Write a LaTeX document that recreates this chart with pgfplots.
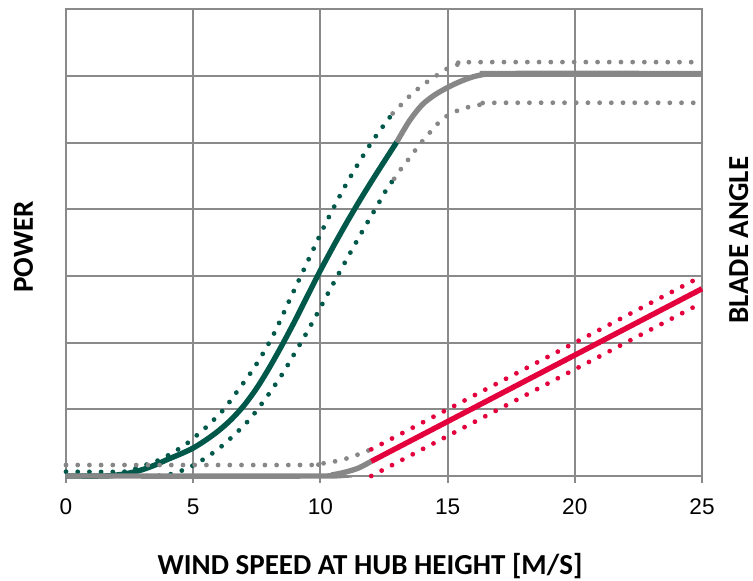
\documentclass[border=0pt]{standalone}
\usepackage{fontspec}
\setmainfont{Carlito}
\newfontfamily\arialfont{Liberation Sans}
\usepackage{pgfplots}
\pgfplotsset{compat=1.18}
\definecolor{gridgray}{RGB}{138,138,138}
\definecolor{curvegray}{RGB}{135,135,135}
\definecolor{tealgreen}{RGB}{0,88,74}
\definecolor{crimson}{RGB}{228,0,60}
\newcommand\labfont{\fontsize{14.5}{17}\selectfont\bfseries}

\begin{document}
\begin{tikzpicture}
\begin{axis}[
  scale only axis, width=318pt, height=233.25pt,
  xmin=0, xmax=25, ymin=0, ymax=7,
  xtick={0,5,...,25}, ytick={0,1,...,7}, yticklabels={},
  xtick pos=bottom, tick align=outside, major tick length=3.5pt,
  ytick style={draw=none},
  xtick style={gridgray, line width=1pt},
  grid=major, major grid style={gridgray, line width=1pt},
  axis line style={gridgray, line width=1pt},
  ticklabel style={font=\arialfont\fontsize{11.3}{13}\selectfont, text=black},
  xticklabel style={yshift=-4.5pt},
  /pgf/number format/assume math mode=true,
  clip=false,
  solidline/.style={line width=2.7pt, smooth},
  dotline/.style={line width=2.4pt, line cap=round, dash pattern=on 0pt off 5.85pt, smooth},
]
% power curve, green part and its band
\addplot[solidline, tealgreen] coordinates {
(0,0) (1.5,0) (2,0.015) (2.5,0.045) (3,0.095) (3.5,0.165) (4,0.25) (4.5,0.33) (5,0.42) (5.5,0.54) (6,0.68) (6.5,0.85) (7,1.06) (7.5,1.32) (8,1.63) (8.5,1.97) (9,2.33) (9.5,2.71) (10,3.085) (10.5,3.44) (11,3.78) (11.5,4.105) (12,4.415) (12.5,4.715) (13,5.01)
};
\addplot[dotline, tealgreen] coordinates {
(0,0.065) (2.3,0.065) (2.78,0.125) (3.24,0.18) (3.66,0.24) (4.06,0.32) (4.45,0.41) (4.83,0.51) (5.17,0.62) (5.53,0.74) (6.18,0.99) (6.73,1.27) (7.3,1.57) (7.76,1.85) (8.22,2.17) (8.8,2.65) (9.39,3.13) (10.18,3.77) (11.03,4.39) (12.0,5.0) (12.84,5.44)
};
\addplot[dotline, tealgreen] coordinates {
(3.2,0) (3.7,0.005) (4.15,0.03) (4.61,0.09) (5.0,0.16) (5.4,0.25) (5.79,0.35) (6.16,0.46) (6.51,0.58) (6.84,0.7) (7.17,0.83) (7.43,0.95) (7.99,1.24) (8.52,1.54) (9.0,1.85) (9.46,2.15) (9.92,2.47) (10.34,2.77) (11.0,3.23) (11.69,3.7) (12.15,4.0) (12.6,4.3) (12.9,4.46)
};
% power curve, grey parts
\addplot[solidline, curvegray] coordinates {
(0,0) (10,0) (10.5,0.02) (11,0.06) (11.5,0.12) (12,0.22)
};
\addplot[solidline, curvegray] coordinates {
(13,5.01) (13.5,5.33) (14,5.57) (14.5,5.72) (15,5.83) (15.5,5.92) (16,5.99) (16.5,6.03) (17,6.04) (25,6.04)
};
\addplot[dotline, curvegray] coordinates {
(12.84,5.44) (13.0,5.5) (13.32,5.63) (13.65,5.75) (14.0,5.86) (14.37,5.96) (14.77,6.06) (15.16,6.15) (15.62,6.19) (16.08,6.21) (25,6.21)
};
\addplot[dotline, curvegray] coordinates {
(12.9,4.46) (13.23,4.64) (13.52,4.78) (13.81,4.93) (14.11,5.07) (14.41,5.2) (14.72,5.33) (15.09,5.43) (15.51,5.5) (15.97,5.55) (16.44,5.58) (16.93,5.6) (25,5.6)
};
\addplot[dotline, curvegray] coordinates {
(0,0.165) (9.3,0.165) (9.8,0.175) (10.3,0.2) (10.64,0.225) (11.1,0.27) (11.53,0.33) (12,0.4)
};
% blade angle
\addplot[dotline, crimson] coordinates {(12,0.4) (25,3.0)};
\addplot[dotline, crimson] coordinates {(12,0) (25,2.6)};
\addplot[solidline, crimson] coordinates {(12,0.22) (25,2.81)};

\node[rotate=90, anchor=base, inner sep=0pt, font=\labfont] at (rel axis cs:-0.0519,0.491) {POWER};
\node[rotate=90, anchor=base, inner sep=0pt, font=\labfont] at (rel axis cs:1.0725,0.506) {BLADE ANGLE};
\node[anchor=base, inner sep=0pt, font=\labfont] at (rel axis cs:0.478,-0.2101) {WIND SPEED AT HUB HEIGHT [M/S]};
\coordinate (bl) at (rel axis cs:-0.10377,-0.22508);
\coordinate (tr) at (rel axis cs:1.08019,1.02036);
\end{axis}
\pgfresetboundingbox
\path[use as bounding box] (bl) rectangle (tr);
\end{tikzpicture}
\end{document}
